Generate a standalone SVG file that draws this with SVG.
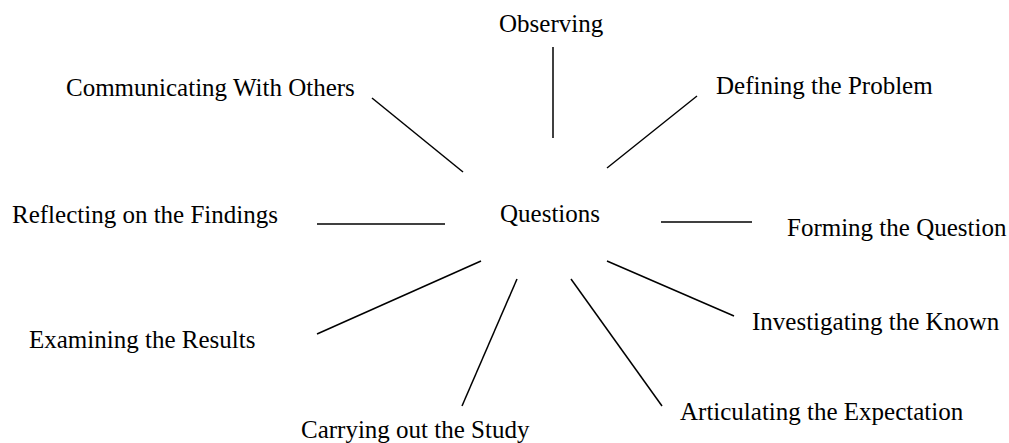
<svg xmlns="http://www.w3.org/2000/svg" width="1009" height="443" viewBox="0 0 1009 443">
<style>
text{font-family:"Liberation Serif","Times New Roman",serif;font-size:25px;fill:#000}
line{stroke:#000;stroke-width:1.5}
</style>
<rect width="1009" height="443" fill="#fff"/>
<g id="connectors">
<line x1="553" y1="47" x2="553" y2="138"/>
<line x1="372" y1="98" x2="463" y2="172"/>
<line x1="697" y1="96" x2="607" y2="168"/>
<line x1="317" y1="224" x2="445" y2="224"/>
<line x1="661" y1="222" x2="752" y2="222"/>
<line x1="481" y1="261" x2="317" y2="334"/>
<line x1="607" y1="261" x2="734" y2="316"/>
<line x1="517" y1="279" x2="462" y2="406"/>
<line x1="571" y1="279" x2="662" y2="406"/>
</g>
<g id="center"><text x="500" y="222">Questions</text></g>
<g id="observing"><text x="499" y="32">Observing</text></g>
<g id="communicating"><text x="66" y="96">Communicating With Others</text></g>
<g id="defining"><text x="716" y="94">Defining the Problem</text></g>
<g id="reflecting"><text x="12" y="223">Reflecting on the Findings</text></g>
<g id="forming"><text x="787" y="236">Forming the Question</text></g>
<g id="examining"><text x="29" y="348">Examining the Results</text></g>
<g id="investigating"><text x="752" y="330">Investigating the Known</text></g>
<g id="carrying"><text x="301" y="438">Carrying out the Study</text></g>
<g id="articulating"><text x="680" y="420">Articulating the Expectation</text></g>
</svg>
